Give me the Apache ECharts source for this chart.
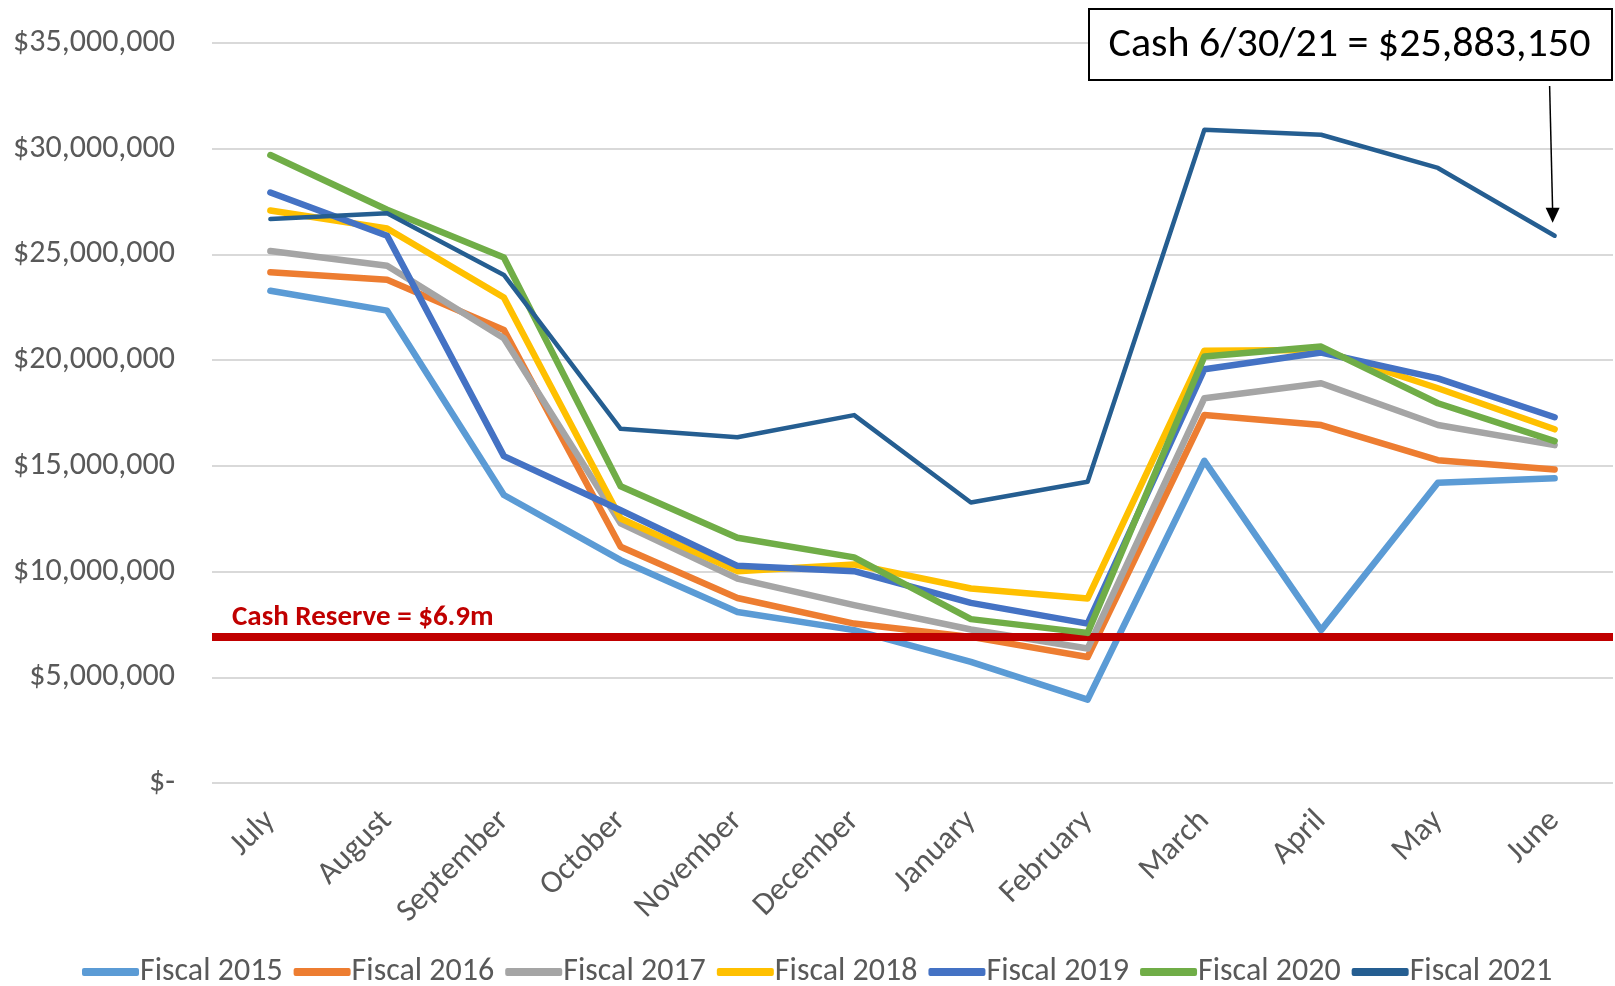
<!DOCTYPE html>
<html>
<head>
<meta charset="utf-8">
<script src="https://cdn.jsdelivr.net/npm/echarts@6/dist/echarts.min.js"></script>
<style>
html,body{margin:0;padding:0;background:#fff;}
#chart{width:1615px;height:986px;}
</style>
</head>
<body>
<div id="chart"></div>
<script>
const months = ['July','August','September','October','November','December','January','February','March','April','May','June'];
const seriesNames = ['Fiscal 2015','Fiscal 2016','Fiscal 2017','Fiscal 2018','Fiscal 2019','Fiscal 2020','Fiscal 2021'];
const fiscal2015 = [23280000, 22340000, 13620000, 10540000, 8090000, 7230000, 5730000, 3940000, 15240000, 7230000, 14200000, 14410000];
const fiscal2016 = [24160000, 23800000, 21430000, 11170000, 8750000, 7540000, 6910000, 5960000, 17410000, 16930000, 15270000, 14830000];
const fiscal2017 = [25160000, 24460000, 21040000, 12280000, 9670000, 8410000, 7260000, 6360000, 18200000, 18910000, 16930000, 15980000];
const fiscal2018 = [27080000, 26230000, 22960000, 12510000, 10020000, 10340000, 9200000, 8730000, 20450000, 20480000, 18670000, 16730000];
const fiscal2019 = [27930000, 25880000, 15460000, 12900000, 10270000, 10020000, 8520000, 7540000, 19570000, 20360000, 19140000, 17300000];
const fiscal2020 = [29700000, 27110000, 24850000, 14040000, 11600000, 10670000, 7750000, 7100000, 20170000, 20640000, 17960000, 16170000];
const fiscal2021 = [26670000, 26950000, 24030000, 16750000, 16350000, 17400000, 13270000, 14250000, 30900000, 30660000, 29090000, 25883150];
const cashReserve = 6900000;
const cashReserveLabel = 'Cash Reserve = $6.9m';
const annotationText = 'Cash 6/30/21 = $25,883,150';
const yMin = 0, yMax = 35000000, yInterval = 5000000;

const colors = ['#5B9BD5','#ED7D31','#A5A5A5','#FFC000','#4472C4','#70AD47','#255E91'];
const allData = [fiscal2015, fiscal2016, fiscal2017, fiscal2018, fiscal2019, fiscal2020, fiscal2021];
const FONT = 'Carlito, Calibri, Lato, sans-serif';

const chart = echarts.init(document.getElementById('chart'), null, {renderer: 'canvas'});

const series = allData.map((d, i) => ({
  name: seriesNames[i],
  type: 'line',
  data: d,
  symbol: 'none',
  smooth: false,
  z: 2 + i,
  lineStyle: {color: colors[i], width: i === 6 ? 4.5 : 6.5, cap: 'round', join: 'round'},
  itemStyle: {color: colors[i]}
}));

series.push({
  name: 'reserve',
  type: 'line',
  data: [],
  z: 20,
  markLine: {
    silent: true,
    symbol: ['none','none'],
    lineStyle: {color: '#C00000', width: 8, type: 'solid'},
    label: {
      show: true,
      position: 'insideStartTop',
      formatter: cashReserveLabel,
      color: '#C00000',
      fontFamily: FONT,
      fontWeight: 'bold',
      fontSize: 29,
      distance: [20, 5]
    },
    data: [{yAxis: cashReserve}]
  }
});

const option = {
  animation: false,
  backgroundColor: '#ffffff',
  color: colors,
  grid: {left: 212, right: 2, top: 43, bottom: 203, containLabel: false},
  legend: {
    data: seriesNames.map((n, i) => ({name: n, icon: 'roundRect'})),
    left: 77,
    top: 951,
    itemWidth: 57,
    itemHeight: 8,
    itemGap: 11,
    textStyle: {color: '#595959', fontSize: 32, fontFamily: FONT, padding: [0,0,0,-4]}
  },
  xAxis: {
    type: 'category',
    data: months,
    boundaryGap: true,
    axisLine: {show: false},
    axisTick: {show: false},
    axisLabel: {
      interval: 0,
      rotate: 45,
      margin: 33,
      color: '#595959',
      fontSize: 32,
      fontFamily: FONT
    }
  },
  yAxis: {
    type: 'value',
    min: yMin,
    max: yMax,
    interval: yInterval,
    axisLine: {show: false},
    axisTick: {show: false},
    splitLine: {lineStyle: {color: '#D9D9D9', width: 2}},
    axisLabel: {
      margin: 37,
      color: '#595959',
      fontSize: 32,
      fontFamily: FONT,
      formatter: v => v === 0 ? '$-' : '$' + v.toLocaleString('en-US')
    }
  },
  series: series
};

chart.setOption(option);

// annotation box + arrow anchored to the June Fiscal 2021 point
const last = months.length - 1;
const pt = chart.convertToPixel({seriesIndex: 6}, [months[last], fiscal2021[last]]);
const tipX = pt[0] - 2, tipY = pt[1] - 13;
const startX = pt[0] - 5, startY = 86;
chart.setOption({
  graphic: [
    {
      type: 'rect',
      left: 1088, top: 8,
      shape: {width: 523, height: 71},
      style: {fill: '#ffffff', stroke: '#000000', lineWidth: 2},
      z: 50
    },
    {
      type: 'text',
      x: 1088 + 523 / 2, y: 8 + 37,
      style: {text: annotationText, fill: '#000000', fontSize: 42, fontFamily: FONT, align: 'center', verticalAlign: 'middle'},
      z: 51
    },
    {
      type: 'line',
      shape: {x1: startX, y1: startY, x2: tipX, y2: tipY - 12},
      style: {stroke: '#000000', lineWidth: 1.5},
      z: 51
    },
    {
      type: 'polygon',
      shape: {points: [[tipX - 7, tipY - 15], [tipX + 7, tipY - 15], [tipX, tipY]]},
      style: {fill: '#000000'},
      z: 51
    }
  ]
});
</script>
</body>
</html>
